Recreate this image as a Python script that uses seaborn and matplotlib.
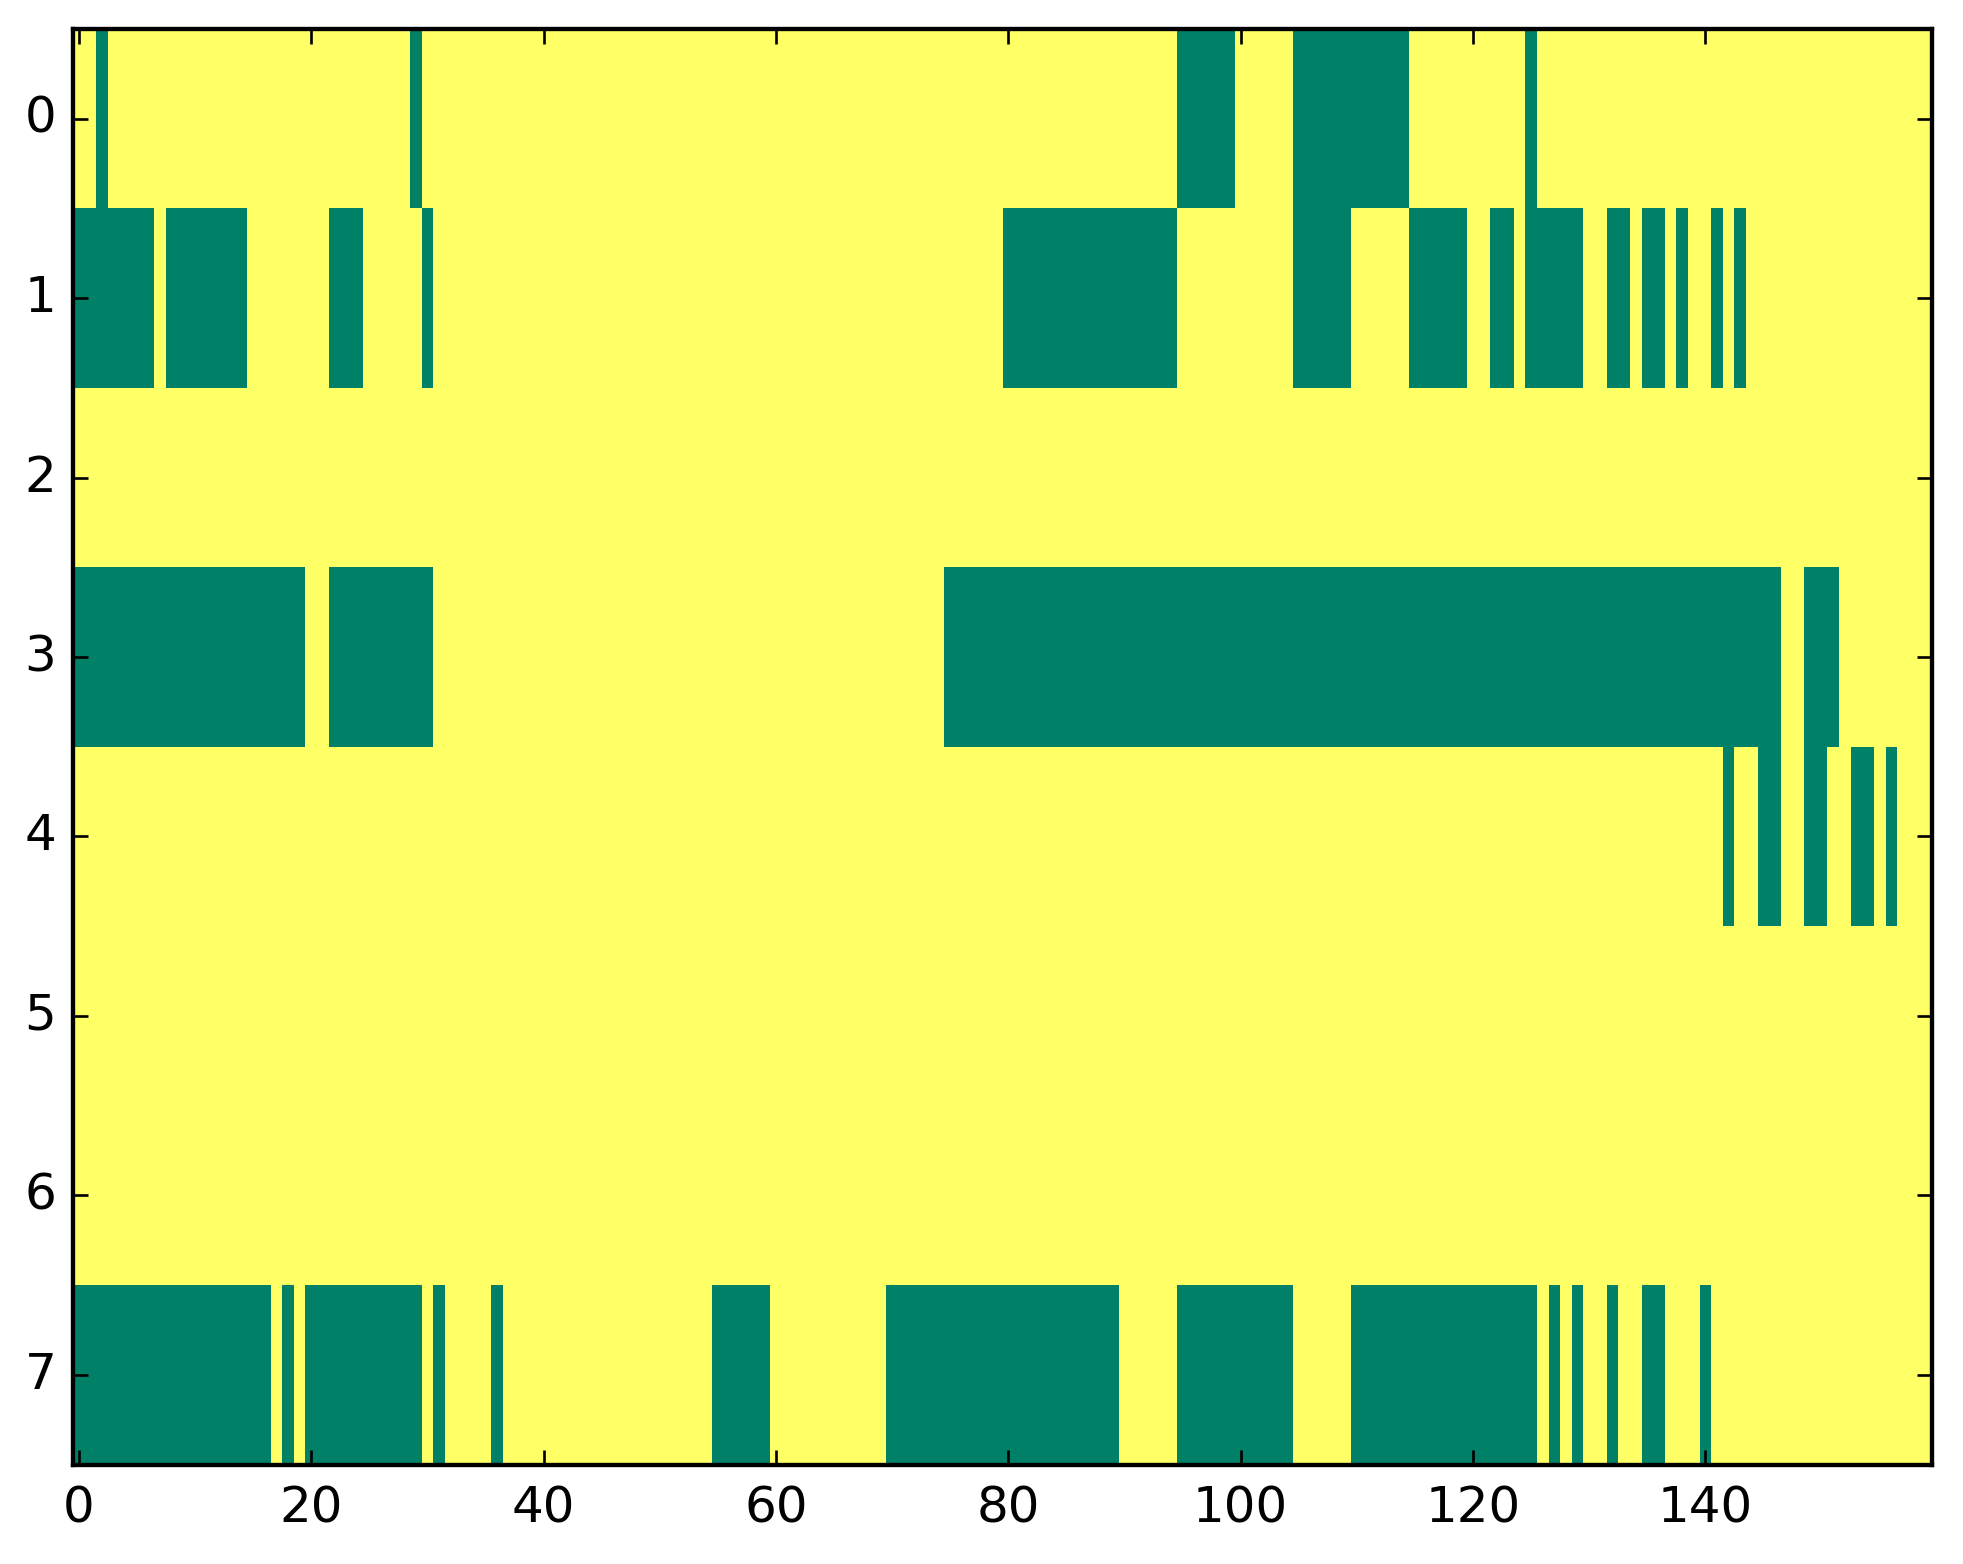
import numpy as np
import pandas as pd
import matplotlib
matplotlib.use("Agg")
import matplotlib.pyplot as plt
import seaborn as sns

# Grid size: 8 rows x 160 columns, value 1 = yellow, 0 = green
n_rows = 8
n_cols = 160

# Green (value 0) runs per row, as inclusive (start, end) column ranges
row0_green = [(2, 2), (29, 29), (95, 99), (105, 114), (125, 125)]
row1_green = [(0, 6), (8, 14), (22, 24), (30, 30), (80, 94), (105, 109),
              (115, 119), (122, 123), (125, 129), (132, 133), (135, 136),
              (138, 138), (141, 141), (143, 143)]
row2_green = []
row3_green = [(0, 19), (22, 30), (75, 146), (149, 151)]
row4_green = [(142, 142), (145, 146), (149, 150), (153, 154), (156, 156)]
row5_green = []
row6_green = []
row7_green = [(0, 16), (18, 18), (20, 29), (31, 31), (36, 36), (55, 59),
              (70, 89), (95, 104), (110, 125), (127, 127), (129, 129),
              (132, 132), (135, 136), (140, 140)]

green_runs = [row0_green, row1_green, row2_green, row3_green,
              row4_green, row5_green, row6_green, row7_green]

grid = np.ones((n_rows, n_cols))
for r, runs in enumerate(green_runs):
    for start, end in runs:
        grid[r, start:end + 1] = 0
grid_df = pd.DataFrame(grid)

x_ticks = [0, 20, 40, 60, 80, 100, 120, 140]
y_ticks = [0, 1, 2, 3, 4, 5, 6, 7]

sns.set_theme(style="ticks", rc={"axes.axisbelow": False})
plt.rcParams["font.family"] = ["DejaVu Sans"]

fig = plt.figure(figsize=(8.18, 6.517), dpi=240)
ax = fig.add_axes([0.0372, 0.0636, 0.9469, 0.9179])
sns.heatmap(grid_df, cmap="summer", vmin=0, vmax=1, cbar=False, ax=ax)
ax.set_axisbelow(False)

ax.set_xticks(np.array(x_ticks) + 0.5)
ax.set_xticklabels([str(t) for t in x_ticks], rotation=0)
ax.set_yticks(np.array(y_ticks) + 0.5)
ax.set_yticklabels([str(t) for t in y_ticks], rotation=0)
ax.tick_params(axis="both", which="major", direction="in", length=4.6,
               width=0.8, color="black", labelcolor="black", labelsize=15,
               top=True, right=True)
ax.tick_params(axis="x", pad=6)
ax.tick_params(axis="y", pad=5)
ax.set_xlabel("")
ax.set_ylabel("")
for spine in ax.spines.values():
    spine.set_visible(True)
    spine.set_color("black")
    spine.set_linewidth(1.3)
    spine.set_zorder(5)

fig.savefig("out.png", dpi=240)
